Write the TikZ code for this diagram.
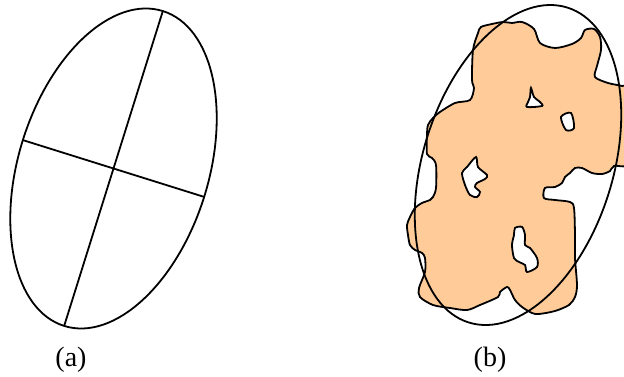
\documentclass[tikz,border=0pt]{standalone}
\usepackage{fontspec}
\setmainfont{Liberation Serif}
\usetikzlibrary{calc}
\definecolor{peach}{RGB}{255,204,153}

\begin{document}
\begin{tikzpicture}[x=1pt, y=1pt,
    outline/.style={line width=1.8pt},
    grain/.style={fill=peach, draw, line width=1.8pt, even odd rule},
    caption/.style={font=\fontsize{28}{28}\selectfont, inner sep=0pt}]
    \useasboundingbox (0,0) rectangle (624,377);
    \coordinate (O) at (113.5,208.5);
    \coordinate (P) at (518,212);
    \coordinate (A) at ($(O)+(72.6:165)$);
    \coordinate (B) at ($(O)+(252.6:165)$);
    \coordinate (C) at ($(O)+(162.6:95)$);
    \coordinate (D) at ($(O)+(342.6:95)$);
    % (a) ellipse and its axes
    \draw[outline, rotate around={72.6:(O)}] (O) ellipse [x radius=165, y radius=95];
    \draw[outline] (A) -- (B);
    \draw[outline] (C) -- (D);
    % (b) grain with pores
    \filldraw[grain]
        plot[smooth cycle, tension=0.5] coordinates {(478,344) (481,350) (492,353) (503,355) (512,354)
            (522,355) (534,348) (540,334) (555,329) (572,333) (581,339) (585,347) (594,348) (600,340)
            (601,327) (597,311) (595,300) (608,294) (622,291) (632,287) (632,217) (614,211) (610,206)
            (602,203) (592,204) (582,209) (575,209) (570,204) (565,200) (562,194) (555,190) (545,189)
            (544,179) (555,177) (570,175) (574,169) (575,142) (575,119) (577,92) (575,80) (569,72)
            (555,66) (539,63) (532,64) (522,70) (515,77) (510,87) (507,90) (500,85) (498,80) (480,72)
            (467,67) (450,69) (433,72) (420,80) (419,89) (425,105) (425,119) (422,124) (415,127)
            (410,132) (408,142) (407,152) (410,160) (415,169) (422,174) (430,177) (433,180) (436,189)
            (436,212) (432,219) (427,223) (427,242) (428,252) (433,259) (440,265) (455,274) (470,277)
            (474,289) (472,297) (473,327)}
        plot[smooth cycle, tension=0.5] coordinates {(476,220) (478,210) (487,202) (485,198) (477,194)
            (475,190) (480,185) (477,180) (470,182) (465,192) (462,204) (467,210)}
        plot[smooth cycle, tension=0.5] coordinates {(531,289) (534,280) (540,275) (542,271) (527,270)
            (528,275) (530,280)}
        plot[smooth cycle, tension=0.5] coordinates {(561,260) (571,264) (574,249) (566,247)}
        plot[smooth cycle, tension=0.5] coordinates {(515,149) (522,150) (525,142) (525,132) (530,129)
            (537,119) (537,110) (527,105) (525,112) (519,115) (514,119) (512,132) (514,142)};
    \draw[outline, rotate around={72.6:(P)}] (P) ellipse [x radius=165, y radius=95];
    \node[caption] (capa) at (71,17.5) {(a)};
    \node[caption] (capb) at (490,17.5) {(b)};
\end{tikzpicture}
\end{document}
